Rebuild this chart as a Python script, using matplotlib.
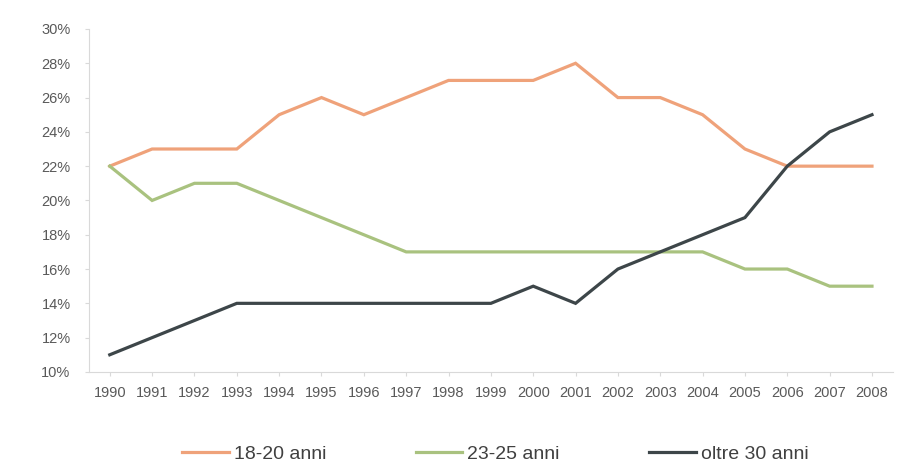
import matplotlib.pyplot as plt
from matplotlib.ticker import FuncFormatter

# dati
anni = list(range(1990, 2009))
eta_18_20 = [22, 23, 23, 23, 25, 26, 25, 26, 27, 27, 27, 28, 26, 26, 25, 23, 22, 22, 22]
eta_23_25 = [22, 20, 21, 21, 20, 19, 18, 17, 17, 17, 17, 17, 17, 17, 17, 16, 16, 15, 15]
oltre_30 = [11, 12, 13, 14, 14, 14, 14, 14, 14, 14, 15, 14, 16, 17, 18, 19, 22, 24, 25]
etichette = ["18-20 anni", "23-25 anni", "oltre 30 anni"]
colori = ["#EFA27A", "#A9C27F", "#3D4649"]

plt.rcParams['font.family'] = ['Liberation Sans', 'DejaVu Sans']

fig = plt.figure(figsize=(9.04, 4.75), dpi=100)
ax = fig.add_axes([0.098, 0.217, 0.89, 0.722])

x = list(range(len(anni)))
for serie, lab, col in zip([eta_18_20, eta_23_25, oltre_30], etichette, colori):
    ax.plot(x, serie, color=col, linewidth=2.3, label=lab, solid_joinstyle='miter')

ax.set_xlim(-0.5, len(anni) - 0.5)
ax.set_ylim(10, 30)
ax.set_yticks(range(10, 31, 2))
ax.yaxis.set_major_formatter(FuncFormatter(lambda v, p: f"{int(v)}%"))
ax.set_xticks(x)
ax.set_xticklabels([str(a) for a in anni])

for s in ["top", "right"]:
    ax.spines[s].set_visible(False)
for s in ["left", "bottom"]:
    ax.spines[s].set_color("#D9D9D9")
    ax.spines[s].set_linewidth(0.8)
ax.tick_params(axis='both', colors="#D9D9D9", labelcolor="#595959", labelsize=10.5, length=3)
ax.tick_params(axis='x', pad=7)
ax.tick_params(axis='y', pad=10)

fig.legend(loc='center', bbox_to_anchor=(0.548, 0.044), ncol=3, frameon=False,
           fontsize=14, handlelength=2.4, handletextpad=0.26, columnspacing=4.6,
           labelcolor="#404040")

plt.savefig("out.png", dpi=100)
